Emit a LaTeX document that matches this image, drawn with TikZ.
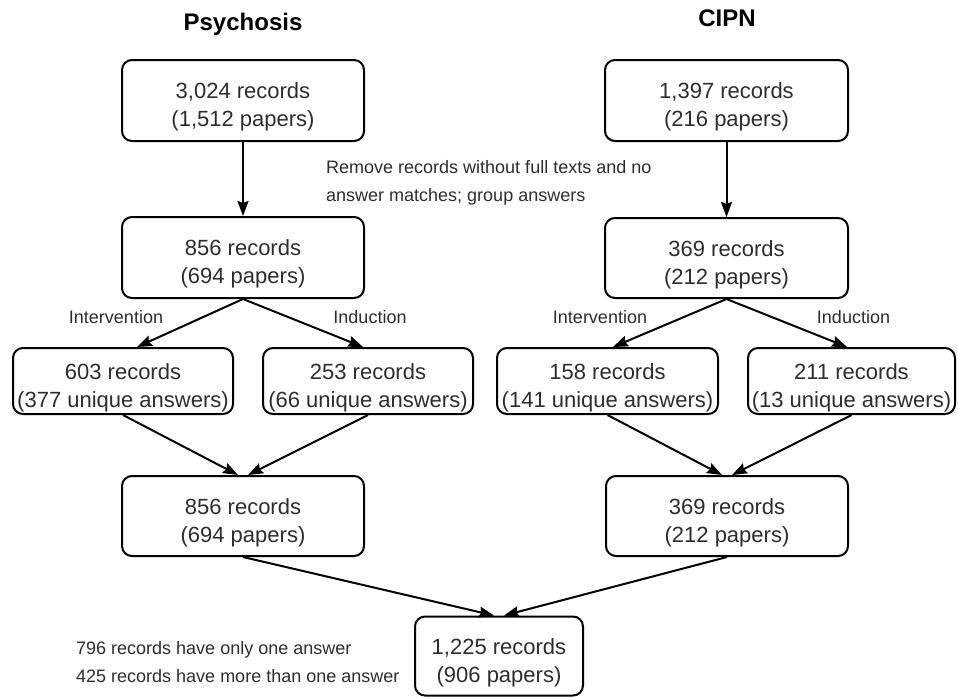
\documentclass[tikz,border=0pt]{standalone}
\usepackage{fontspec}
\setmainfont{Liberation Sans}
\usetikzlibrary{arrows.meta}
\definecolor{txt}{RGB}{45,45,45}
\begin{document}
\begin{tikzpicture}[x=1pt,y=-1pt,
  box/.style={draw=black, line width=2pt, rounded corners=10pt, inner sep=0pt,
    align=center, text=txt, font=\fontsize{22}{28}\selectfont,
    text height=57pt, text depth=5pt},
  bigbox/.style={box, minimum width=242pt, minimum height=81pt},
  subbox/.style={box, minimum height=66pt},
  flow/.style={line width=2pt, -{Stealth[length=15pt,width=11pt,inset=2pt]}},
  title/.style={font=\fontsize{24}{28}\selectfont\bfseries, anchor=base},
  lbl/.style={font=\fontsize{18}{28}\selectfont, text=txt, inner sep=0pt}]
\useasboundingbox (0,0) rectangle (958,697);

% column titles
\node[title] (tP) at (243,30) {Psychosis};
\node[title] (tC) at (727,26) {CIPN};

% Psychosis column
\node[bigbox] (P1) at (243,100.5) {3,024 records\\(1,512 papers)};
\node[bigbox] (P2) at (243,257.5) {856 records\\(694 papers)};
\node[subbox, minimum width=220pt] (PL) at (123,381) {603 records\\(377 unique answers)};
\node[subbox, minimum width=210pt] (PR) at (368,381) {253 records\\(66 unique answers)};
\node[bigbox, minimum height=80pt] (P3) at (243,516) {856 records\\(694 papers)};

% CIPN column
\node[bigbox, minimum width=243pt] (C1) at (726.5,100.5) {1,397 records\\(216 papers)};
\node[bigbox, minimum width=243pt, minimum height=80pt] (C2) at (726.5,258) {369 records\\(212 papers)};
\node[subbox, minimum width=221pt] (CL) at (607.5,381) {158 records\\(141 unique answers)};
\node[subbox, minimum width=207pt] (CR) at (851.5,381) {211 records\\(13 unique answers)};
\node[bigbox, minimum height=80pt] (C3) at (727,516) {369 records\\(212 papers)};

% combined result
\node[box, minimum width=168pt, minimum height=79pt] (F) at (499,656) {1,225 records\\(906 papers)};

% annotations (base anchor sits on the last line)
\node[lbl, anchor=base west, align=left] (rm) at (326,201)
  {Remove records without full texts and no\\answer matches; group answers};
\node[lbl, anchor=base] (iP) at (116,323) {Intervention};
\node[lbl, anchor=base] (dP) at (370,323) {Induction};
\node[lbl, anchor=base] (iC) at (600,323) {Intervention};
\node[lbl, anchor=base] (dC) at (853.5,323) {Induction};
\node[lbl, anchor=base west, align=left] (ans) at (76,682)
  {796 records have only one answer\\425 records have more than one answer};

% connectors
\draw[flow] (P1.south) -- (P2.north);
\draw[flow] (C1.south) -- (C2.north);
\draw[flow] (P2.south) -- ([xshift=14pt]PL.north);
\draw[flow] (P2.south) -- ([xshift=-5pt]PR.north);
\draw[flow] (C2.south) -- ([xshift=5.5pt]CL.north);
\draw[flow] (C2.south) -- ([xshift=-4.5pt]CR.north);
\draw[flow] (PL.south) -- ([xshift=-5pt]P3.north);
\draw[flow] (PR.south) -- ([xshift=5pt]P3.north);
\draw[flow] (CL.south) -- ([xshift=-5pt]C3.north);
\draw[flow] (CR.south) -- ([xshift=5pt]C3.north);
\draw[flow] (P3.south) -- ([xshift=-5pt]F.north);
\draw[flow] (C3.south) -- ([xshift=5pt]F.north);
\end{tikzpicture}
\end{document}
